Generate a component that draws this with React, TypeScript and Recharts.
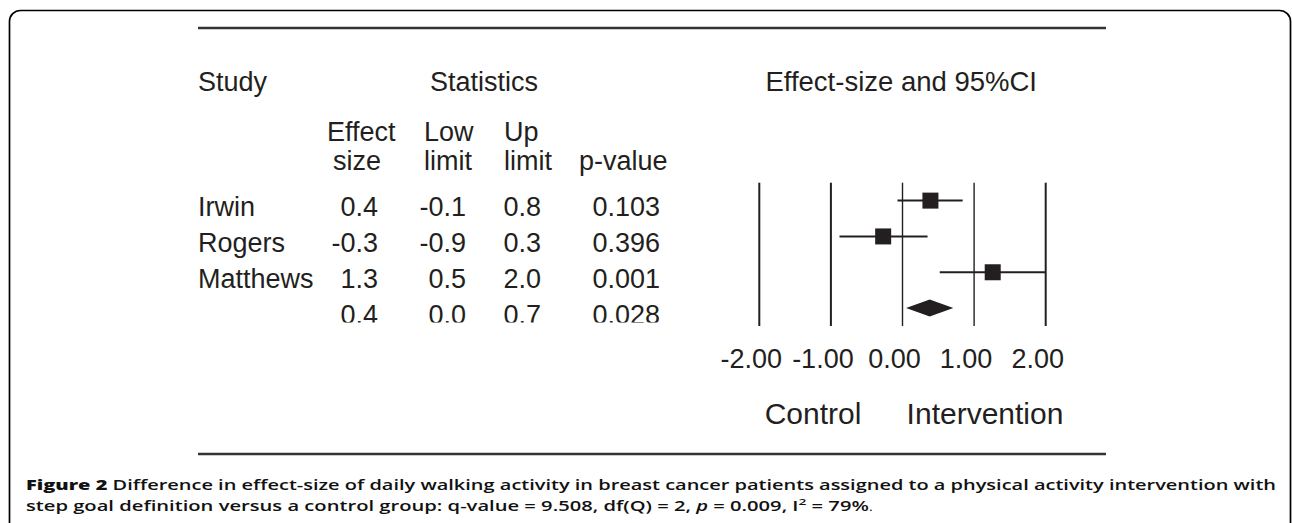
import React from "react";
import { ReferenceArea, ReferenceLine, Scatter, ScatterChart, XAxis, YAxis } from "recharts";

const studies = ["Irwin", "Rogers", "Matthews", ""];
const effectText = ["0.4", "-0.3", "1.3", "0.4"];
const lowText = ["-0.1", "-0.9", "0.5", "0.0"];
const upText = ["0.8", "0.3", "2.0", "0.7"];
const pText = ["0.103", "0.396", "0.001", "0.028"];

// marker positions as drawn in the plot
const effect = [0.39, -0.27, 1.26, 0.38];
const low = [-0.07, -0.88, 0.52, 0.05];
const high = [0.84, 0.35, 2.0, 0.71];

const xTicks = [-2, -1, 0, 1, 2];
const rowTicks = [0, 1, 2, 3];

const INK = "#231f20";
const FONT = "'Liberation Sans', Arial, Helvetica, sans-serif";
const TABLE_FS = 27;

const points = studies.slice(0, 3).map((s, i) => ({ x: effect[i], y: i, name: s }));
const pooled = 3;

function RowTick(props: any) {
  const { y, payload } = props;
  const i = payload.value as number;
  const by = y + 15.5;
  const last = i === studies.length - 1;
  return (
    <g fill={INK} fontSize={TABLE_FS} fontFamily={FONT}>
      {last && (
        <defs>
          <clipPath id="lastRowCut">
            <rect x={0} y={0} width={720} height={by - 1} />
          </clipPath>
        </defs>
      )}
      <g clipPath={last ? "url(#lastRowCut)" : undefined}>
        <text x={198} y={by} textAnchor="start">{studies[i]}</text>
        <text x={378} y={by} textAnchor="end">{effectText[i]}</text>
        <text x={466} y={by} textAnchor="end">{lowText[i]}</text>
        <text x={541} y={by} textAnchor="end">{upText[i]}</text>
        <text x={660} y={by} textAnchor="end">{pText[i]}</text>
      </g>
    </g>
  );
}

const Square = (p: any) => <rect x={p.cx - 8} y={p.cy - 8} width={16} height={16} fill={INK} />;

const Diamond = (p: any) => {
  const cy = p.y + p.height / 2;
  const cx = p.x + (p.width * (effect[pooled] - low[pooled])) / (high[pooled] - low[pooled]);
  return (
    <polygon
      points={`${p.x},${cy} ${cx},${cy - 8.5} ${p.x + p.width},${cy} ${cx},${cy + 8.5}`}
      fill={INK}
    />
  );
};

function Frame() {
  return (
    <svg width={1292} height={523} style={{ position: "absolute", left: 0, top: 0 }}>
      <rect x={9.5} y={10.5} width={1281} height={600} rx={11} fill="none" stroke="#000" strokeWidth={1.7} />
      <line x1={198} x2={1106} y1={28} y2={28} stroke="#333" strokeWidth={2.5} />
      <line x1={198} x2={1106} y1={454} y2={454} stroke="#333" strokeWidth={2.5} />
      <g fill={INK} fontFamily={FONT} fontSize={TABLE_FS}>
        <text x={198} y={90.5}>Study</text>
        <text x={430} y={90.5}>Statistics</text>
        <text x={1037} y={90.5} textAnchor="end" fontSize={27.5}>Effect-size and 95%CI</text>
        <text x={327} y={141}>Effect</text>
        <text x={333} y={170}>size</text>
        <text x={424} y={141}>Low</text>
        <text x={424} y={170}>limit</text>
        <text x={504} y={141}>Up</text>
        <text x={504} y={170}>limit</text>
        <text x={579} y={170}>p-value</text>
        <text x={813} y={424} textAnchor="middle" fontSize={30}>Control</text>
        <text x={985} y={424} textAnchor="middle" fontSize={30}>Intervention</text>
      </g>
      <g fill="#111" fontFamily="'Open Sans', sans-serif" fontSize={14} fontWeight={600}>
        <text x={26} y={489.5} textLength={1250} lengthAdjust="spacingAndGlyphs">
          <tspan fontWeight={800}>Figure 2</tspan> Difference in effect-size of daily walking activity in breast cancer
          patients assigned to a physical activity intervention with
        </text>
        <text x={26} y={510.5} textLength={847} lengthAdjust="spacingAndGlyphs">
          step goal definition versus a control group: q-value = 9.508, df(Q) = 2, <tspan fontStyle="italic">p</tspan> =
          0.009, I<tspan dy={-6} fontSize={9.5}>2</tspan>
          <tspan dy={6}> = 79%</tspan>
          <tspan fontWeight={400} fontSize={11}>.</tspan>
        </text>
      </g>
    </svg>
  );
}

export default function App() {
  return (
    <div style={{ position: "absolute", left: 0, top: 0, width: 1292, height: 523, background: "#fff" }}>
      <Frame />
      <div style={{ position: "absolute", left: 0, top: 0 }}>
        <ScatterChart
          width={1292}
          height={523}
          margin={{ top: 182.7, right: 246.3, bottom: 147, left: 659.3 }}
        >
          <XAxis
            type="number"
            dataKey="x"
            domain={[-2, 2]}
            ticks={xTicks}
            interval={0}
            height={50}
            axisLine={false}
            tickLine={false}
            tickSize={0}
            tickMargin={23}
            tickFormatter={(v: number) => v.toFixed(2)}
            tick={{ fill: INK, fontSize: 27, fontFamily: FONT, dx: -8 }}
          />
          <YAxis
            type="number"
            dataKey="y"
            domain={[-0.5, 3.5]}
            ticks={rowTicks}
            interval={0}
            reversed
            width={100}
            axisLine={false}
            tickLine={false}
            tick={<RowTick />}
          />
          {xTicks.map((v) => (
            <ReferenceLine
              key={v}
              x={v}
              stroke={INK}
              strokeWidth={v === 0 || v === 1 ? 1.4 : 2}
            />
          ))}
          {points.map((p, i) => (
            <ReferenceLine
              key={p.name}
              segment={[
                { x: low[i], y: i },
                { x: high[i], y: i },
              ]}
              stroke={INK}
              strokeWidth={2}
              ifOverflow="extendDomain"
            />
          ))}
          <ReferenceArea
            x1={low[pooled]}
            x2={high[pooled]}
            y1={pooled - 0.5}
            y2={pooled + 0.5}
            shape={Diamond}
          />
          <Scatter data={points} shape={Square} isAnimationActive={false} />
        </ScatterChart>
      </div>
    </div>
  );
}
